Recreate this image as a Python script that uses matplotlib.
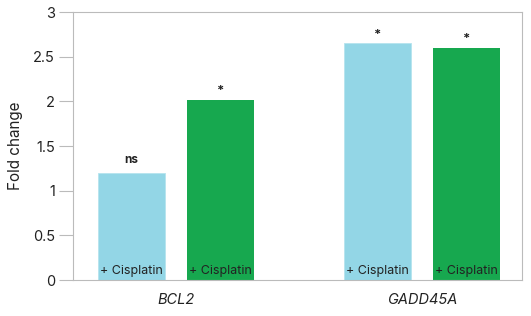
import numpy as np
import matplotlib.pyplot as plt

plt.rcParams['font.family'] = ['Inter', 'DejaVu Sans']

genes = ["BCL2", "GADD45A"]
treat_label = "+ Cisplatin"
blue_vals = [1.20, 2.65]
green_vals = [2.02, 2.60]
blue_sig = ["ns", "*"]
green_sig = ["*", "*"]

fig = plt.figure(figsize=(5.31, 3.16), dpi=100)
ax = fig.add_axes([73/531, 1 - 280/316, 449/531, 268/316])

x = np.arange(len(genes))
w = 0.272
off = 0.181
bb = ax.bar(x - off, blue_vals, w, color="#93d6e6", edgecolor="#b5e4ee", linewidth=0.6)
gb = ax.bar(x + off, green_vals, w, color="#17a84f")

for bars, sig in [(bb, blue_sig), (gb, green_sig)]:
    for b, s in zip(bars, sig):
        cx = b.get_x() + b.get_width() / 2
        dy = 0.08 if s == "ns" else 0.03
        ax.text(cx, b.get_height() + dy, s, ha="center", va="bottom",
                fontsize=8.5 if s == "ns" else 9.5, fontweight="bold", color="#222222")
        ax.text(cx, 0.03, treat_label, ha="center", va="bottom",
                fontsize=9, color="#222222")

ax.set_xlim(-0.419, 1.407)
ax.set_ylim(0, 3)
ax.set_yticks([0, 0.5, 1, 1.5, 2, 2.5, 3])
ax.set_yticklabels(["0", "0.5", "1", "1.5", "2", "2.5", "3"])
ax.set_xticks(x)
ax.set_xticklabels(genes, fontstyle="italic")
ax.tick_params(axis="x", length=0, pad=9, labelsize=10.5, labelcolor="#222222")
ax.tick_params(axis="y", length=10, width=0.8, color="#bbbbbb", pad=3,
               labelsize=10.5, labelcolor="#222222")
for sp in ax.spines.values():
    sp.set_color("#bbbbbb")
    sp.set_linewidth(0.8)
ax.set_ylabel("Fold change", fontsize=11, color="#222222", labelpad=7)

fig.savefig("out.png", dpi=100)
